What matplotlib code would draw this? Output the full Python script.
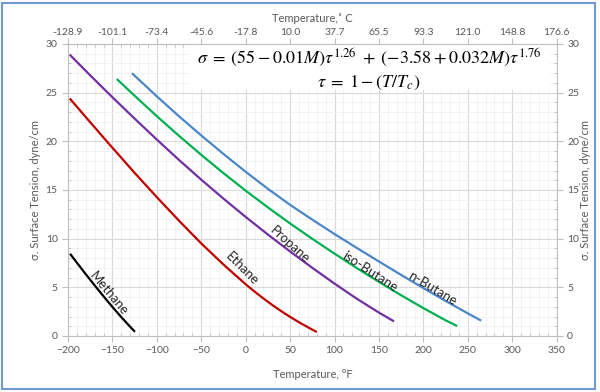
import numpy as np
import matplotlib
matplotlib.use("Agg")
import matplotlib.pyplot as plt
from matplotlib.ticker import MultipleLocator
from matplotlib.patches import Rectangle

plt.rcParams['font.family'] = ['Lato', 'DejaVu Sans']
plt.rcParams['mathtext.fontset'] = 'stix'

# surface tension curves (T in degF, sigma in dyne/cm)
methane_T = [-197.7, -190, -180, -170, -160, -150, -140, -130, -124.6]
methane_s = [8.45, 7.53, 6.35, 5.2, 4.08, 2.99, 1.94, 0.94, 0.43]

ethane_T = [-198, -175, -150, -125, -100, -75, -50, -25, 0, 10, 20, 30, 40, 50, 60, 70, 80]
ethane_s = [24.4, 21.96, 19.34, 16.76, 14.26, 11.84, 9.51, 7.34, 5.31, 4.56, 3.85,
            3.18, 2.55, 1.96, 1.41, 0.9, 0.41]

propane_T = [-198, -175, -150, -125, -100, -75, -50, -25, 0, 25, 50, 75, 100, 125, 150, 167]
propane_s = [28.9, 26.78, 24.53, 22.33, 20.18, 18.08, 16.06, 14.11, 12.23, 10.42, 8.68,
             7.0, 5.38, 3.83, 2.4, 1.5]

isobutane_T = [-145, -125, -100, -75, -50, -25, 0, 25, 50, 75, 100, 125, 150, 175, 200, 225, 238]
isobutane_s = [26.4, 24.68, 22.58, 20.56, 18.61, 16.73, 14.93, 13.21, 11.56, 9.98, 8.46,
               6.98, 5.56, 4.18, 2.86, 1.61, 1.02]

nbutane_T = [-128, -100, -75, -50, -25, 0, 25, 50, 75, 100, 125, 150, 175, 200, 225, 250, 265]
nbutane_s = [27.0, 24.62, 22.57, 20.6, 18.7, 16.87, 15.12, 13.47, 11.95, 10.47, 9.05,
             7.65, 6.27, 4.92, 3.6, 2.32, 1.58]

celsius_labels = ['-128.9', '-101.1', '-73.4', '-45.6', '-17.8', '10.0', '37.7',
                  '65.5', '93.3', '121.0', '148.8', '176.6']

txt_col = '#595959'

fig = plt.figure(figsize=(6, 3.92), dpi=100)
ax = fig.add_axes([0.1133, 0.1429, 0.8145, 0.7449])

# chart border
fig.patches.append(Rectangle((0.004, 0.008), 0.988, 0.984, transform=fig.transFigure,
                             fill=False, edgecolor='#6C9BD2', lw=1.5))

lw = 1.6
ax.plot(methane_T, methane_s, color='black', lw=lw, solid_capstyle='butt')
ax.plot(ethane_T, ethane_s, color='#C00000', lw=lw, solid_capstyle='butt')
ax.plot(propane_T, propane_s, color='#7030A0', lw=lw, solid_capstyle='butt')
ax.plot(isobutane_T, isobutane_s, color='#00B050', lw=lw, solid_capstyle='butt')
ax.plot(nbutane_T, nbutane_s, color='#4A86C8', lw=lw, solid_capstyle='butt')

ax.set_xlim(-200, 350)
ax.set_ylim(0, 30)
ax.xaxis.set_major_locator(MultipleLocator(50))
ax.xaxis.set_minor_locator(MultipleLocator(10))
ax.yaxis.set_major_locator(MultipleLocator(5))
ax.yaxis.set_minor_locator(MultipleLocator(1))
ax.grid(which='major', color='#D9D9D9', lw=0.8)
ax.grid(which='minor', color='#F0F0F0', lw=0.6)
ax.set_axisbelow(True)

for s in ax.spines.values():
    s.set_color('#BFBFBF')
    s.set_linewidth(0.8)

ax.tick_params(which='both', colors='#BFBFBF', labelcolor=txt_col, labelsize=7.5,
               top=True, right=True, labelright=True)
ax.tick_params(which='major', length=4, direction='out')
ax.tick_params(which='minor', length=2.5, direction='in')

ax.set_xlabel('Temperature, °F', color=txt_col, fontsize=8, labelpad=10)
ax.set_ylabel('σ. Surface Tension, dyne/cm', color=txt_col, fontsize=8, labelpad=3)

ax_r = ax.secondary_yaxis('right')
ax_r.set_ylabel('σ. Surface Tension, dyne/cm', color=txt_col, fontsize=8, labelpad=17)
ax_r.tick_params(length=0, labelright=False)
ax_r.spines['right'].set_visible(False)

ax_top = ax.secondary_xaxis('top')
ax_top.set_xticks(np.arange(-200, 351, 50), celsius_labels)
ax_top.tick_params(length=0, labelcolor=txt_col, labelsize=7.5, pad=5)
ax_top.spines['top'].set_visible(False)
ax_top.set_xlabel('Temperature,˚ C', color=txt_col, fontsize=8, labelpad=4)

# curve labels
lab_kw = dict(color='#262626', fontsize=9.5, ha='center', va='center', rotation_mode='anchor')
ax.text(-154.4, 4.35, 'Methane', rotation=-50, **lab_kw)
ax.text(-4.5, 6.9, 'Ethane', rotation=-45, **lab_kw)
ax.text(49.3, 9.35, 'Propane', rotation=-42, **lab_kw)
ax.text(139.5, 6.55, 'iso-Butane', rotation=-33, **lab_kw)
ax.text(210.2, 4.85, 'n-Butane', rotation=-31, **lab_kw)

# equation box
ax.add_patch(Rectangle((0.2455, 0.842), 0.74, 0.158, transform=ax.transAxes,
                       facecolor='white', edgecolor='none', zorder=1.5))
ax.text(0.616, 0.952,
        r'$\sigma\;=\;(55 - 0.01M)\tau^{1.26}\;+\;(-3.58 + 0.032M)\tau^{1.76}$',
        transform=ax.transAxes, ha='center', va='center', fontsize=13, zorder=3)
ax.text(0.616, 0.865, r'$\tau\;=\;1 - (T/T_c)$',
        transform=ax.transAxes, ha='center', va='center', fontsize=13, zorder=3)

fig.savefig('out.png', dpi=100)
